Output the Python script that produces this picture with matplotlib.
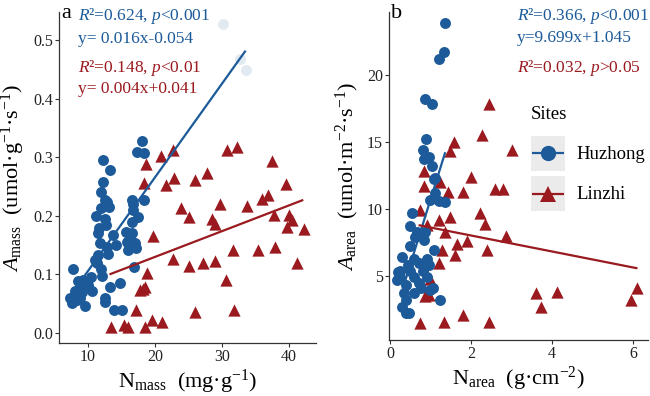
import numpy as np
import matplotlib
matplotlib.use("Agg")
import matplotlib.pyplot as plt
from matplotlib.lines import Line2D
from matplotlib.patches import Rectangle

plt.rcParams["font.family"] = ["Liberation Serif", "DejaVu Serif"]
plt.rcParams["mathtext.fontset"] = "custom"
plt.rcParams["mathtext.rm"] = "Liberation Serif"
plt.rcParams["mathtext.it"] = "Liberation Serif:italic"

BLUE = "#1C5A99"
RED = "#9A1A1F"

# panel a : Nmass vs Amass
hz_nmass = [18.1, 17.3, 18.3, 12.3, 13.3, 12.3, 12.5, 12.9, 16.5, 18.4, 12.0, 17.5, 16.5, 12.5, 11.7,
            11.5, 13.7, 15.6, 16.6, 15.8, 15.9, 17.0, 11.8, 12.8, 11.5, 11.3, 12.0, 16.8, 7.8, 12.1,
            8.5, 9.3, 10.0, 8.1, 9.1, 7.3, 8.3, 9.6, 13.3, 14.8, 12.5, 12.5, 13.8, 15.0, 16.7,
            16.7, 10.5, 11.0, 13.0, 14.2, 9.0, 10.6, 7.6, 8.8, 11.2, 12.0, 13.2, 16.2, 17.2, 12.7]
hz_amass = [0.328, 0.309, 0.307, 0.295, 0.279, 0.258, 0.227, 0.224, 0.227, 0.227, 0.213, 0.198, 0.190, 0.195, 0.180,
            0.170, 0.168, 0.172, 0.170, 0.155, 0.142, 0.154, 0.153, 0.147, 0.133, 0.119, 0.110, 0.113, 0.110, 0.098,
            0.088, 0.090, 0.082, 0.072, 0.070, 0.060, 0.057, 0.047, 0.079, 0.085, 0.060, 0.053, 0.039, 0.040, 0.210,
            0.220, 0.095, 0.125, 0.135, 0.150, 0.078, 0.072, 0.052, 0.060, 0.200, 0.240, 0.215, 0.160, 0.145, 0.185]
# faded Huzhong points
hz_nmass_out = [30.2, 32.6, 33.5]
hz_amass_out = [0.527, 0.467, 0.449]

lz_nmass = [22.6, 20.9, 18.7, 30.8, 32.2, 37.4, 18.3, 21.6, 22.8, 26.0, 27.7, 39.6, 23.8, 25.1, 29.7,
            28.5, 29.0, 33.7, 35.9, 36.8, 37.8, 40.0, 40.4, 39.7, 42.2, 19.7, 22.6, 25.1, 27.2, 29.0,
            31.6, 35.3, 37.9, 41.1, 30.6, 18.8, 17.8, 18.5, 18.2, 26.0, 31.8, 17.2, 19.5, 21.0, 18.5,
            16.0, 15.3, 13.4]
lz_amass = [0.312, 0.302, 0.288, 0.313, 0.318, 0.294, 0.256, 0.253, 0.264, 0.261, 0.273, 0.254, 0.213, 0.198, 0.221,
            0.195, 0.186, 0.217, 0.228, 0.235, 0.201, 0.201, 0.193, 0.181, 0.177, 0.166, 0.126, 0.114, 0.119, 0.123,
            0.142, 0.142, 0.147, 0.119, 0.090, 0.102, 0.073, 0.079, 0.076, 0.036, 0.039, 0.039, 0.022, 0.018, 0.011,
            0.011, 0.013, 0.011]

# panel b : Narea vs Aarea
hz_narea = [1.36, 1.32, 1.20, 0.87, 1.03, 0.89, 0.81, 0.95, 1.03, 0.83, 1.11, 1.07, 1.11, 0.99, 1.36,
            1.20, 0.54, 0.50, 0.62, 0.83, 0.50, 1.07, 0.29, 0.58, 0.91, 0.25, 0.50, 0.80, 0.25, 0.60,
            0.90, 0.38, 0.75, 1.06, 0.34, 0.99, 1.24, 0.29, 0.38, 0.46, 0.20, 0.18, 0.70, 0.45, 0.65,
            0.72, 0.85, 0.40, 0.95, 0.60]
hz_aarea = [23.9, 21.7, 21.2, 18.2, 17.8, 15.2, 14.4, 13.9, 13.2, 13.7, 12.3, 12.2, 11.2, 10.7, 10.5,
            10.6, 9.7, 8.7, 7.9, 7.7, 7.2, 6.9, 6.4, 6.3, 6.3, 5.4, 5.4, 5.4, 4.9, 4.9,
            4.9, 4.3, 4.1, 4.1, 3.7, 3.95, 3.2, 2.7, 2.2, 2.2, 5.3, 4.7, 6.0, 5.8, 8.3,
            4.5, 8.3, 3.2, 5.8, 3.7]

lz_narea = [2.44, 2.28, 3.00, 1.57, 1.48, 2.00, 2.59, 2.79, 0.83, 0.83, 1.24, 1.44, 1.81, 0.74, 0.91,
            1.20, 1.48, 1.36, 2.22, 2.34, 2.85, 1.65, 1.89, 1.28, 1.60, 2.38, 1.20, 0.99, 0.87, 0.95,
            0.74, 1.32, 1.81, 2.43, 3.61, 3.73, 4.13, 6.11, 5.95]
lz_aarea = [17.8, 15.5, 14.4, 15.0, 14.3, 12.4, 11.5, 11.5, 12.8, 11.7, 12.0, 11.3, 11.3, 9.9, 8.8,
            9.2, 9.4, 8.3, 9.7, 8.9, 8.0, 7.4, 7.6, 6.9, 6.6, 6.9, 5.95, 4.8, 3.5, 3.6,
            1.5, 1.6, 2.1, 1.6, 3.7, 2.7, 3.8, 4.1, 3.2]

# regression lines: slope, intercept, x from, x to (as drawn)
fit_hz_a = [0.016, -0.054, 9.0, 33.5]
fit_lz_a = [0.0044, 0.042, 13.2, 42.1]
fit_hz_b = [9.699, 1.045, 0.35, 1.36]
fit_lz_b = [-0.596, 9.21, 0.70, 6.11]


def fitline(ax, fit, color):
  xs = np.array(fit[2:])
  ax.plot(xs, fit[0] * xs + fit[1], color=color, lw=1.6, zorder=4, solid_capstyle="butt")


def style(ax):
  for s in ["top", "right"]:
    ax.spines[s].set_visible(False)
  for s in ["left", "bottom"]:
    ax.spines[s].set_color("#333333")
    ax.spines[s].set_linewidth(0.9)
  ax.tick_params(length=3, width=0.8, color="#333333", labelsize=11.5, labelcolor="#222222", pad=1.5)


class KeyHandler:
  # grey ggplot-style key with point + line on top
  def __init__(self, color, marker, ms):
    self.color, self.marker, self.ms = color, marker, ms

  def legend_artist(self, legend, orig_handle, fontsize, handlebox):
    x0, y0 = -handlebox.xdescent, -handlebox.ydescent
    w, h = handlebox.width, handlebox.height
    tr = handlebox.get_transform()
    bg = Rectangle((x0, y0), w, h, facecolor="#EBEBEB", edgecolor="none", transform=tr)
    ln = Line2D([x0 + 1, x0 + w - 1], [y0 + h / 2, y0 + h / 2], color=self.color, lw=1.6,
                solid_capstyle="butt", transform=tr)
    mk = Line2D([x0 + w / 2], [y0 + h / 2], color=self.color, marker=self.marker,
                markersize=self.ms, markeredgewidth=0, linestyle="none", transform=tr)
    handlebox.add_artist(bg)
    handlebox.add_artist(ln)
    handlebox.add_artist(mk)
    return bg


fig = plt.figure(figsize=(6.5, 3.96), dpi=100)
W, H = 650.0, 396.0
axa = fig.add_axes([59 / W, 1 - 343 / H, (316 - 59) / W, (343 - 12) / H])
axb = fig.add_axes([389 / W, 1 - 340 / H, (648 - 389) / W, (340 - 12) / H])

# panel a
axa.scatter(lz_nmass, lz_amass, marker="^", s=78, color=RED, linewidths=0, zorder=2)
axa.scatter(hz_nmass, hz_amass, marker="o", s=62, color=BLUE, linewidths=0, zorder=3)
axa.scatter(hz_nmass_out, hz_amass_out, marker="o", s=62, color=BLUE, alpha=0.13, linewidths=0, zorder=3)
fitline(axa, fit_hz_a, BLUE)
fitline(axa, fit_lz_a, RED)
axa.set_xlim(5.67, 44.0)
axa.set_ylim(-0.017, 0.548)
axa.set_xticks([10, 20, 30, 40])
axa.set_yticks([0.0, 0.1, 0.2, 0.3, 0.4, 0.5])
axa.set_yticklabels(["0.0", "0.1", "0.2", "0.3", "0.4", "0.5"])
style(axa)
axa.set_xlabel(r"N$_{\mathrm{mass}}$  (mg·g$^{\mathrm{-1}}$)", fontsize=16, labelpad=2)
axa.set_ylabel(r"$\mathit{A}_{\mathrm{mass}}$  (umol·g$^{\mathrm{-1}}$·s$^{\mathrm{-1}}$)", fontsize=16, labelpad=4)

# panel b
axb.scatter(lz_narea, lz_aarea, marker="^", s=78, color=RED, linewidths=0, zorder=2)
axb.scatter(hz_narea, hz_aarea, marker="o", s=62, color=BLUE, linewidths=0, zorder=3)
fitline(axb, fit_hz_b, BLUE)
fitline(axb, fit_lz_b, RED)
axb.set_xlim(-0.03, 6.37)
axb.set_ylim(0.22, 24.7)
axb.set_xticks([0, 2, 4, 6])
axb.set_yticks([5, 10, 15, 20])
style(axb)
axb.set_xlabel(r"N$_{\mathrm{area}}$  (g·cm$^{\mathrm{-2}}$)", fontsize=16, labelpad=2)
axb.set_ylabel(r"$\mathit{A}_{\mathrm{area}}$  (umol·m$^{\mathrm{-2}}$·s$^{\mathrm{-1}}$)", fontsize=16, labelpad=4)

# annotations
fs = 12.5
fig.text(61 / W, 1 - 14 / H, "a", fontsize=16, va="center")
fig.text(78 / W, 1 - 16 / H, r"$\mathit{R}$²=0.624, $\mathit{p}$<0.001", color=BLUE, fontsize=fs, va="center")
fig.text(78 / W, 1 - 39 / H, "y= 0.016x-0.054", color=BLUE, fontsize=fs, va="center")
fig.text(78 / W, 1 - 68 / H, r"$\mathit{R}$²=0.148, $\mathit{p}$<0.01", color=RED, fontsize=fs, va="center")
fig.text(78 / W, 1 - 89 / H, "y= 0.004x+0.041", color=RED, fontsize=fs, va="center")

fig.text(391 / W, 1 - 14 / H, "b", fontsize=16, va="center")
fig.text(517 / W, 1 - 16 / H, r"$\mathit{R}$²=0.366, $\mathit{p}$<0.001", color=BLUE, fontsize=fs, va="center")
fig.text(517 / W, 1 - 38 / H, "y=9.699x+1.045", color=BLUE, fontsize=fs, va="center")
fig.text(517 / W, 1 - 68 / H, r"$\mathit{R}$²=0.032, $\mathit{p}$>0.05", color=RED, fontsize=fs, va="center")

# legend
site_names = ["Huzhong", "Linzhi"]
hz_key = Line2D([], [], color=BLUE)
lz_key = Line2D([], [], color=RED)
leg = fig.legend([hz_key, lz_key], site_names, title="Sites",
                 handler_map={hz_key: KeyHandler(BLUE, "o", 11), lz_key: KeyHandler(RED, "^", 12)},
                 loc="upper left", bbox_to_anchor=(531 / W, 1 - 106 / H),
                 frameon=False, fontsize=13.5, title_fontsize=13.5,
                 handlelength=1.81, handleheight=2.5, handletextpad=0.6,
                 labelspacing=0.3, borderpad=0, borderaxespad=0, alignment="left")
leg._legend_box.sep = 9

fig.savefig("out.png", dpi=100)
